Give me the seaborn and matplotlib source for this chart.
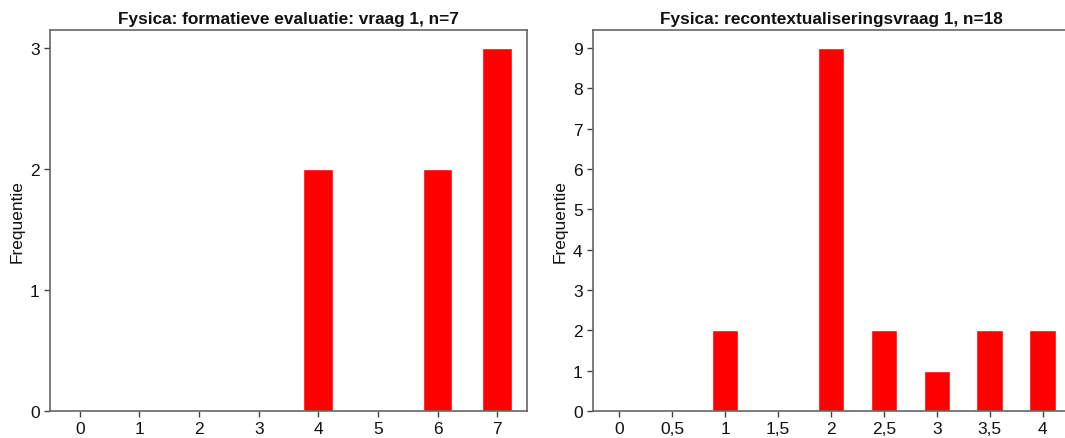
import matplotlib
matplotlib.use("Agg")
import matplotlib.pyplot as plt
import seaborn as sns
import pandas as pd

# data
left_title = "Fysica: formatieve evaluatie: vraag 1, n=7"
left_scores = ["0", "1", "2", "3", "4", "5", "6", "7"]
left_counts = [0, 0, 0, 0, 2, 0, 2, 3]

right_title = "Fysica: recontextualiseringsvraag 1, n=18"
right_scores = ["0", "0,5", "1", "1,5", "2", "2,5", "3", "3,5", "4"]
right_counts = [0, 0, 2, 0, 9, 2, 1, 2, 2]

sns.set_style("ticks", {"axes.edgecolor": "#666666",
                        "xtick.color": "#444444",
                        "ytick.color": "#444444",
                        "text.color": "#111111",
                        "axes.labelcolor": "#111111"})
plt.rcParams["font.family"] = ["Liberation Sans", "DejaVu Sans"]

fig = plt.figure(figsize=(10.65, 4.39), dpi=100)
ax1 = fig.add_axes([50 / 1065, 27 / 439, 477 / 1065, 381 / 439])
ax2 = fig.add_axes([593 / 1065, 27 / 439, 476 / 1065, 381 / 439])


def draw(ax, scores, counts, title):
    df = pd.DataFrame({"score": scores, "freq": counts})
    sns.barplot(data=df, x="score", y="freq", order=scores, color="#ff0000",
                saturation=1, width=0.5, ax=ax)
    ax.set_xlim(-0.5, len(scores) - 0.5)
    ax.set_ylim(0, max(counts) * 1.05)
    ax.set_yticks(range(0, max(counts) + 1))
    ax.set_title(title, fontsize=12.4, fontweight="bold", pad=5, color="#111111")
    ax.set_xlabel("")
    ax.set_ylabel("Frequentie", fontsize=12.5, labelpad=4, color="#111111")
    ax.tick_params(labelsize=12.5, length=4, width=1, labelcolor="#111111")
    for s in ax.spines.values():
        s.set_linewidth(1.2)


draw(ax1, left_scores, left_counts, left_title)
draw(ax2, right_scores, right_counts, right_title)

fig.savefig("out.png", dpi=100)
